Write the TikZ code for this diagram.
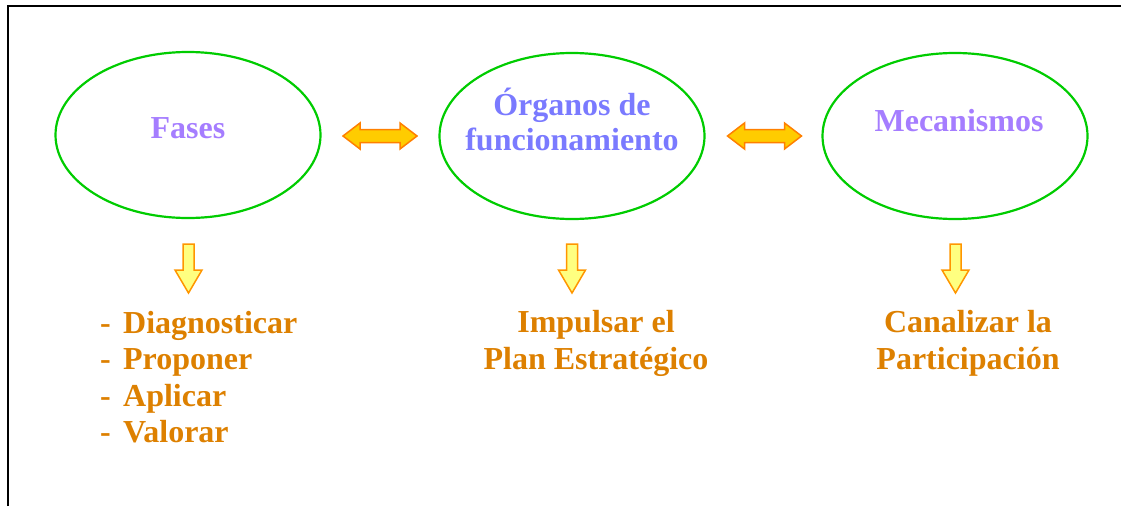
\documentclass[tikz,border=0pt]{standalone}
\usepackage{fontspec}
\setmainfont{Liberation Serif}
\usetikzlibrary{shapes.geometric}
\definecolor{ellgreen}{RGB}{0,204,0}
\definecolor{txtpurple}{RGB}{165,125,255}
\definecolor{txtblue}{RGB}{122,122,255}
\definecolor{txtorange}{RGB}{221,128,0}
\definecolor{arrfill}{RGB}{255,204,0}
\definecolor{arredge}{RGB}{255,128,0}
\definecolor{downfill}{RGB}{255,255,128}
\definecolor{downedge}{RGB}{255,150,0}
\begin{document}
\begin{tikzpicture}[x=1pt,y=-1pt,
  ell/.style={draw=ellgreen, line width=2.2pt, ellipse, minimum width=265pt, minimum height=166pt, inner sep=0pt},
  title/.style={font=\fontsize{32}{35}\selectfont\bfseries, align=center, inner sep=0pt, anchor=base},
  body/.style={font=\fontsize{32}{36.5}\selectfont\bfseries, text=txtorange, inner sep=0pt, anchor=base},
  harrow/.pic={\draw[line width=1.5pt, draw=arredge, fill=arrfill, line join=miter]
     (-37,0) -- (-20,-13) -- (-20,-6.5) -- (20,-6.5) -- (20,-13) -- (37,0) -- (20,13) -- (20,6.5) -- (-20,6.5) -- (-20,13) -- cycle;},
  darrow/.pic={\draw[line width=1.5pt, draw=downedge, fill=downfill, line join=miter]
     (-5.5,0) -- (5.5,0) -- (5.5,26) -- (13.5,26) -- (0,49) -- (-13.5,26) -- (-5.5,26) -- cycle;}
]
\useasboundingbox (0,0) rectangle (1131,506);
% frame (top and left edges)
\draw[line width=2pt] (8,506) -- (8,6) -- (1121,6);
% ellipses
\node[ell] (fases) at (188,135) {};
\node[ell] (organos) at (572,136) {};
\node[ell] (mecan) at (955,136) {};
% titles (anchor=base sits on the last line)
\node[title, text=txtpurple] (tfases) at (188,138) {Fases};
\node[title, text=txtblue] (torganos) at (572,150) {Órganos de\\funcionamiento};
\node[title, text=txtpurple] (tmecan) at (959,131) {Mecanismos};
% double arrows
\pic (h1) at (380,136) {harrow};
\pic (h2) at (764.5,136) {harrow};
% down arrows
\pic (d1) at (188.5,244) {darrow};
\pic (d2) at (572,244) {darrow};
\pic (d3) at (955.5,244) {darrow};
% lower texts
\node[body, anchor=base west, align=left] (lista) at (100,442.5)
  {\makebox[23pt][l]{-}Diagnosticar\\\makebox[23pt][l]{-}Proponer\\\makebox[23pt][l]{-}Aplicar\\\makebox[23pt][l]{-}Valorar};
\node[body, align=center] (impulsar) at (596,369) {Impulsar el\\Plan Estratégico};
\node[body, align=center] (canalizar) at (968,369) {Canalizar la\\Participación};
\end{tikzpicture}
\end{document}
